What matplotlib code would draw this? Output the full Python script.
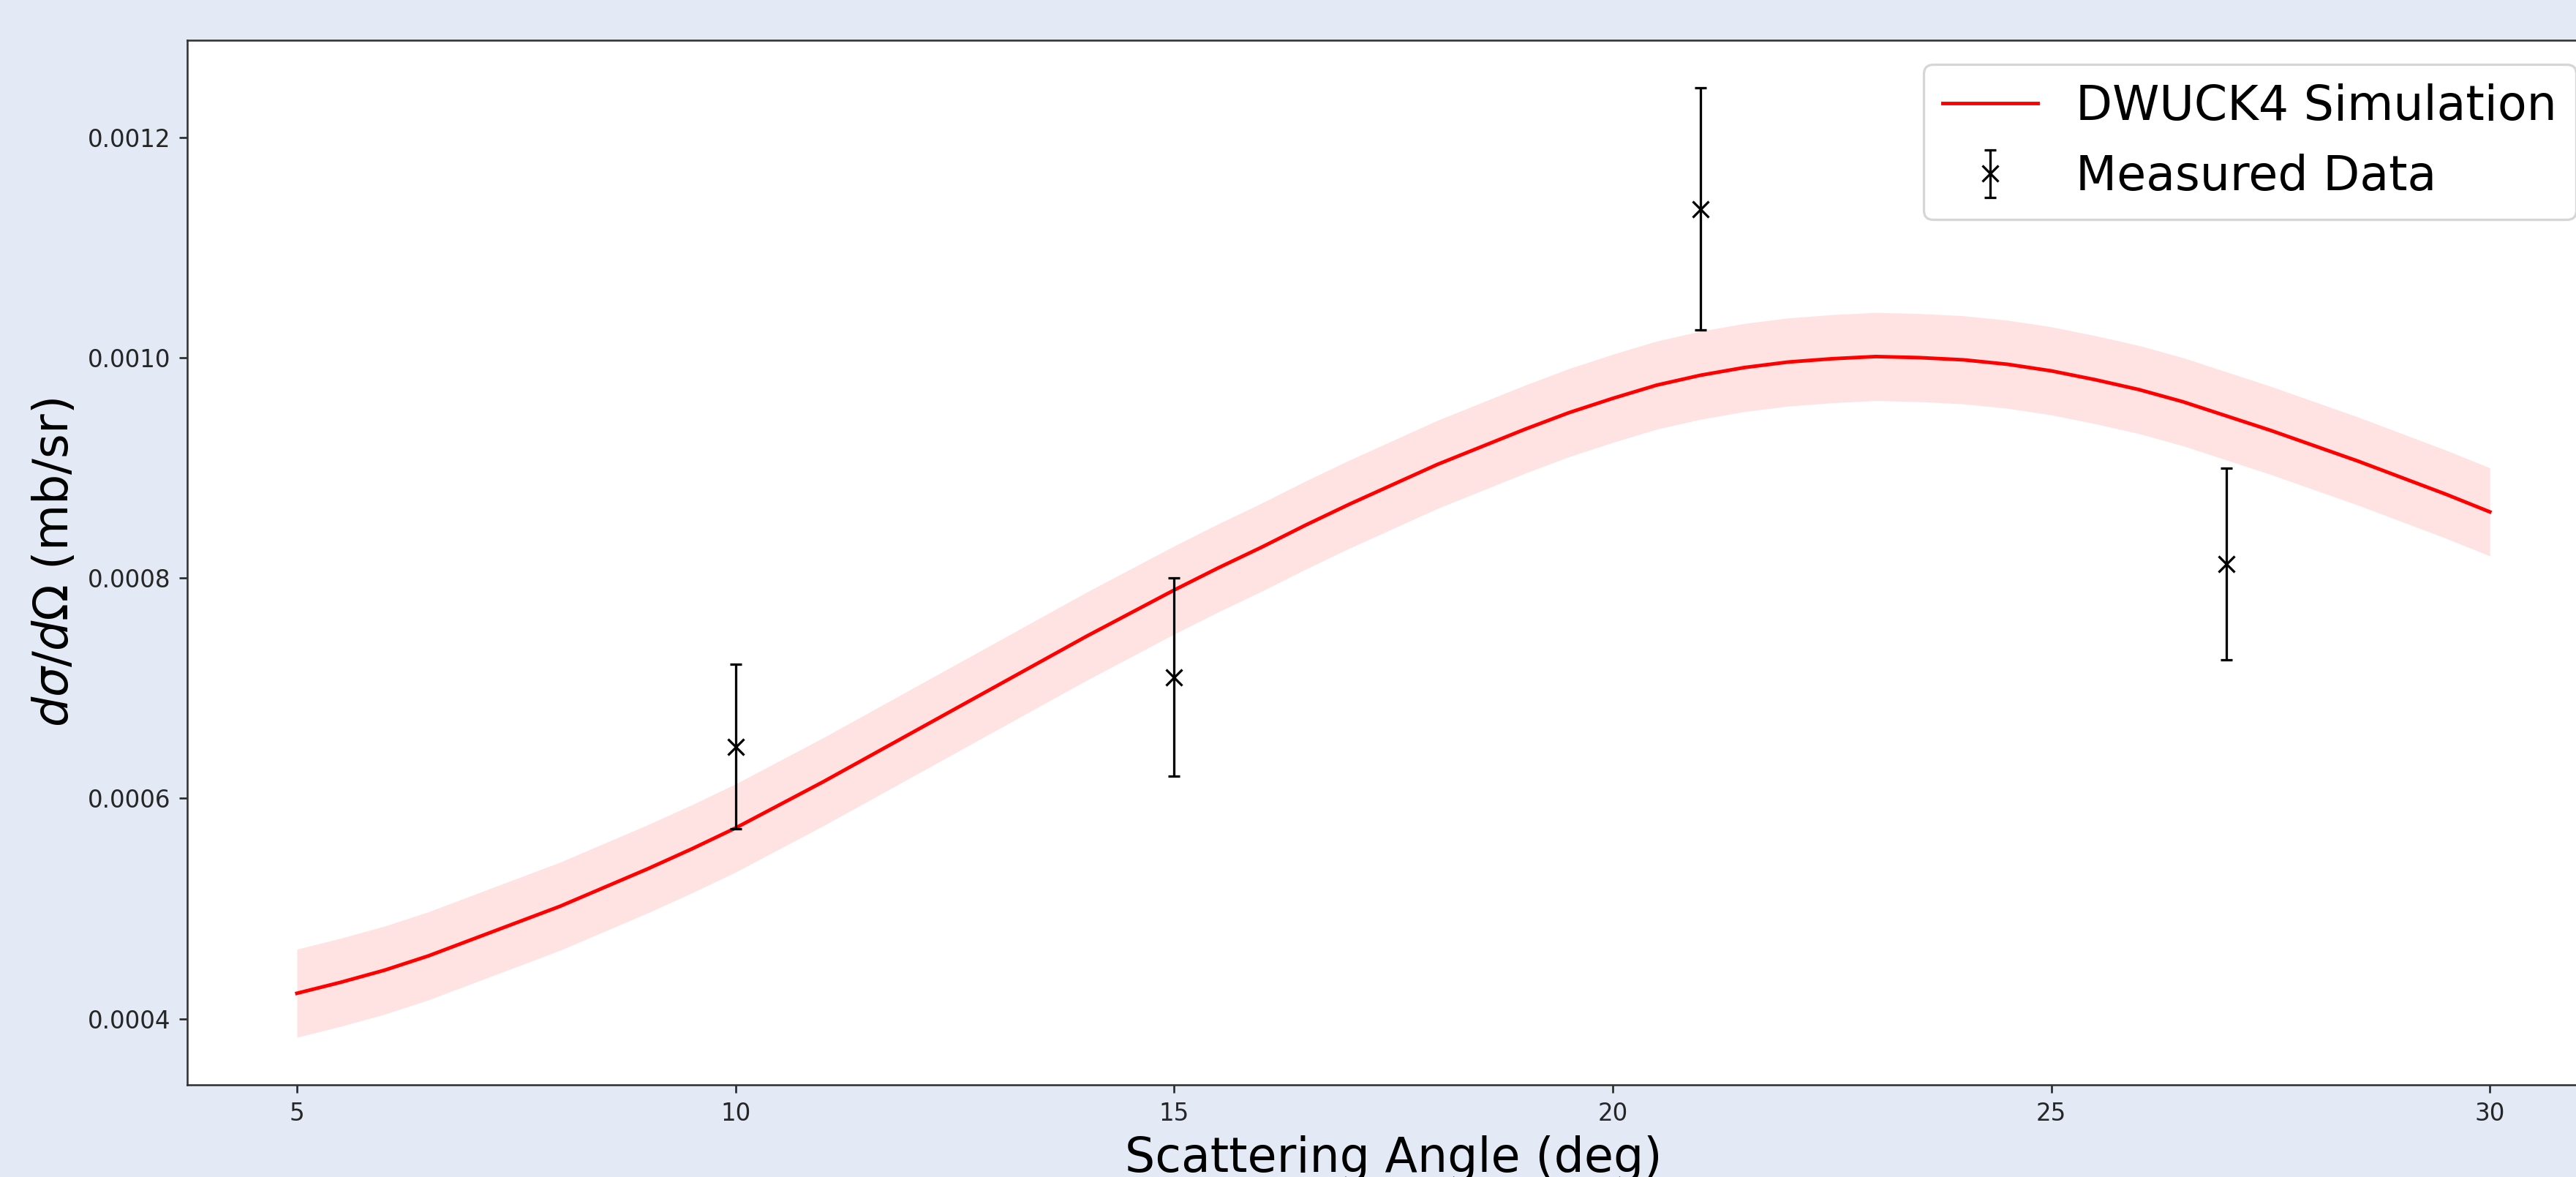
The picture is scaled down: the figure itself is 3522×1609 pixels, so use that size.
import matplotlib
matplotlib.use("Agg")
import matplotlib.pyplot as plt
import numpy as np

# DWUCK4 simulated cross section, every half degree
sim_angle = [5.0, 5.5, 6.0, 6.5, 7.0, 7.5, 8.0, 8.5, 9.0, 9.5,
             10.0, 10.5, 11.0, 11.5, 12.0, 12.5, 13.0, 13.5, 14.0, 14.5,
             15.0, 15.5, 16.0, 16.5, 17.0, 17.5, 18.0, 18.5, 19.0, 19.5,
             20.0, 20.5, 21.0, 21.5, 22.0, 22.5, 23.0, 23.5, 24.0, 24.5,
             25.0, 25.5, 26.0, 26.5, 27.0, 27.5, 28.0, 28.5, 29.0, 29.5,
             30.0]
sim_xsec = [0.000423, 0.000433, 0.000444, 0.000457, 0.000472, 0.000487,
            0.000502, 0.000519, 0.000536, 0.000554, 0.000573, 0.000594,
            0.000615, 0.000637, 0.000659, 0.000681, 0.000703, 0.000725,
            0.000747, 0.000768, 0.000789, 0.000809, 0.000828, 0.000848,
            0.000867, 0.000885, 0.000903, 0.000919, 0.000935, 0.000950,
            0.000963, 0.000975, 0.000984, 0.000991, 0.000996, 0.000999,
            0.001001, 0.001000, 0.000998, 0.000994, 0.000988, 0.000980,
            0.000971, 0.000960, 0.000947, 0.000934, 0.000920, 0.000906,
            0.000891, 0.000876, 0.000860]
sim_band = 0.00004  # half width of the shaded uncertainty band

# measured points
meas_angle = [10, 15, 21, 27]
meas_xsec = [0.000647, 0.000710, 0.001135, 0.000813]
meas_err = [0.000075, 0.000090, 0.000110, 0.000087]

DPI = 234
BG = "#e3eaf6"

plt.rcParams.update({
    "font.family": "DejaVu Sans",
    "axes.edgecolor": "0.2",
    "xtick.color": "0.15",
    "ytick.color": "0.15",
})

fig = plt.figure(figsize=(3522 / DPI, 1609 / DPI), dpi=DPI, facecolor=BG)
# axes runs a little past the right edge of the canvas, as in the original crop
ax = fig.add_axes([0.0727, 0.0783, 0.9364, 0.8875])
ax.set_facecolor("white")

x = np.array(sim_angle)
y = np.array(sim_xsec)

ax.fill_between(x, y - sim_band, y + sim_band, color="red", alpha=0.11, linewidth=0)
ax.plot(x, y, color="red", linewidth=1.5, label="DWUCK4 Simulation")
ax.errorbar(meas_angle, meas_xsec, yerr=meas_err, fmt="x", color="black",
            markersize=6.5, elinewidth=1.0, capsize=2.5, capthick=1.0,
            label="Measured Data")

ax.set_xlabel("Scattering Angle (deg)", fontsize=20)
ax.set_ylabel(r"$d\sigma/d\Omega$ (mb/sr)", fontsize=20)
ax.tick_params(labelsize=10)

ax.legend(loc="upper right", fontsize=20)

fig.savefig("out.png", dpi=DPI, facecolor=BG)
